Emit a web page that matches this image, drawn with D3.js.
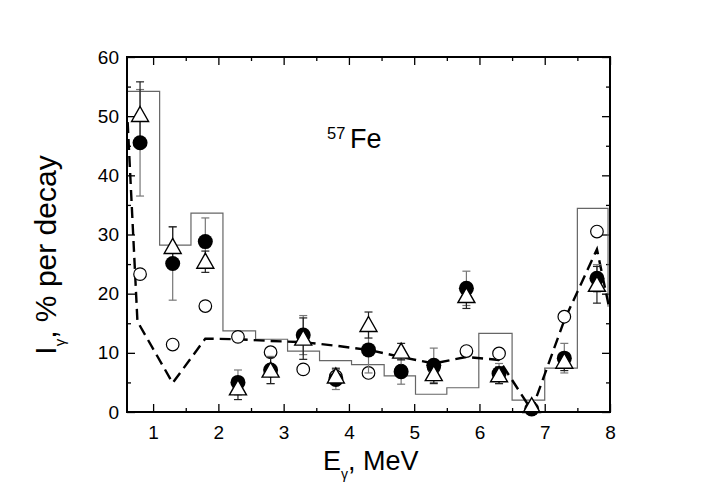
<!DOCTYPE html>
<html><head><meta charset="utf-8">
<script src="https://cdn.jsdelivr.net/npm/d3@7"></script>
<style>body{margin:0;background:#fff}svg{display:block}</style>
</head><body><svg id="c" width="708" height="494"></svg>
<script>
// ---- data ----
const energies   = [0.8,1.3,1.8,2.3,2.8,3.3,3.8,4.3,4.8,5.3,5.8,6.3,6.8,7.3,7.8];
const filledVals = [45.5,25.1,28.8,5.0,7.1,13.0,5.5,10.5,6.8,7.9,20.9,6.5,0.5,9.1,22.6];
const filledErr  = [9.0,6.2,4.0,2.1,2.3,3.3,1.7,3.9,2.1,2.9,2.9,1.7,0.5,2.5,2.3];
const triVals    = [50.2,27.9,25.4,4.0,7.0,12.4,6.0,14.7,10.2,6.4,19.6,6.2,1.0,8.5,21.5];
const triErr     = [5.6,3.4,1.8,1.9,2.2,3.5,1.4,2.2,1.4,1.6,2.1,1.4,0.6,1.5,3.1];
const openVals   = [23.3,11.4,17.9,12.7,10.1,7.2,6.0,6.6,7.0,7.5,10.3,9.9,0.5,16.1,30.5];
const histEdges  = [0.6,1.1,1.58,2.07,2.57,3.06,3.55,4.04,4.54,5.02,5.5,5.99,6.5,7.0,7.5,7.97];
const histVals   = [54.2,28.2,33.6,13.7,12.3,10.3,8.7,8.0,6.1,3.0,4.1,13.3,2.0,7.4,34.4];
const histEndVal = 17.8;
const curveE     = [0.61,0.76,1.3,1.8,2.3,2.8,3.3,3.8,4.3,4.8,5.3,5.8,6.3,6.8,7.3,7.8,7.98];
const curveVals  = [49,15.3,4.9,12.4,12.3,12.0,11.8,11.2,10.5,9.3,8.2,9.3,8.8,0.3,15.5,27.5,18];
const xTicks = [1,2,3,4,5,6,7,8];
const xMinor = [1.5,2.5,3.5,4.5,5.5,6.5,7.5];
const yTicks = [0,10,20,30,40,50,60];
const yMinor = [5,15,25,35,45,55];

const FONT = "'Liberation Sans', Arial, Helvetica, sans-serif";
const svg = d3.select("#c");
const x = d3.scaleLinear().domain([0.6, 8]).range([127, 610]);
const y = d3.scaleLinear().domain([0, 60]).range([412, 57]);
const [x0, x1] = x.range(), [y0, y1] = y.range();

// axes (inward ticks)
function styleAxis(g){ g.select(".domain").remove(); g.selectAll("line").attr("stroke","#000").attr("stroke-width",1.3);
  g.selectAll("text").attr("font-family",FONT).attr("font-size",19).attr("fill","#000"); }
svg.append("g").attr("transform",`translate(0,${y0})`)
  .call(d3.axisBottom(x).tickValues(xTicks).tickFormat(d3.format("d")).tickSize(-8).tickPadding(14)).call(styleAxis);
svg.append("g").attr("transform",`translate(0,${y0})`)
  .call(d3.axisBottom(x).tickValues(xMinor).tickFormat("").tickSize(-4)).call(styleAxis);
svg.append("g").attr("transform",`translate(0,${y1})`)
  .call(d3.axisTop(x).tickValues(xTicks).tickFormat("").tickSize(-8)).call(styleAxis);
svg.append("g").attr("transform",`translate(0,${y1})`)
  .call(d3.axisTop(x).tickValues(xMinor).tickFormat("").tickSize(-4)).call(styleAxis);
svg.append("g").attr("transform",`translate(${x0},0)`)
  .call(d3.axisLeft(y).tickValues(yTicks).tickFormat(d3.format("d")).tickSize(-8).tickPadding(8)).call(styleAxis);
svg.append("g").attr("transform",`translate(${x0},0)`)
  .call(d3.axisLeft(y).tickValues(yMinor).tickFormat("").tickSize(-4)).call(styleAxis);
svg.append("g").attr("transform",`translate(${x1},0)`)
  .call(d3.axisRight(y).tickValues(yTicks).tickFormat("").tickSize(-8)).call(styleAxis);
svg.append("g").attr("transform",`translate(${x1},0)`)
  .call(d3.axisRight(y).tickValues(yMinor).tickFormat("").tickSize(-4)).call(styleAxis);

// histogram
const histPts = histEdges.map((e,i)=>[e, i<histVals.length ? histVals[i] : histVals[histVals.length-1]]);
histPts.push([histEdges[histEdges.length-1], histEndVal]);
svg.append("path").attr("d", d3.line().x(d=>x(d[0])).y(d=>y(d[1])).curve(d3.curveStepAfter)(histPts))
  .attr("fill","none").attr("stroke","#666").attr("stroke-width",1.2);

// dashed curve
svg.append("path").attr("d", d3.line().x((d,i)=>x(curveE[i])).y(d=>y(d))(curveVals))
  .attr("fill","none").attr("stroke","#000").attr("stroke-width",2.4).attr("stroke-dasharray","11,6");

// open circles
svg.append("g").selectAll("circle").data(openVals).join("circle")
  .attr("cx",(d,i)=>x(energies[i])).attr("cy",d=>y(d)).attr("r",6.3)
  .attr("fill","#fff").attr("stroke","#000").attr("stroke-width",1.2);

// error bars
function errBars(vals, errs, color){
  const g = svg.append("g").attr("stroke",color).attr("stroke-width",1.2);
  vals.forEach((v,i)=>{
    const cx = x(energies[i]), lo = y(v-errs[i]), hi = y(v+errs[i]);
    g.append("line").attr("x1",cx).attr("x2",cx).attr("y1",lo).attr("y2",hi);
    g.append("line").attr("x1",cx-4).attr("x2",cx+4).attr("y1",lo).attr("y2",lo);
    g.append("line").attr("x1",cx-4).attr("x2",cx+4).attr("y1",hi).attr("y2",hi);
  });
}
errBars(filledVals, filledErr, "#777");
errBars(triVals, triErr, "#222");

// filled circles
svg.append("g").selectAll("circle").data(filledVals).join("circle")
  .attr("cx",(d,i)=>x(energies[i])).attr("cy",d=>y(d)).attr("r",7.5).attr("fill","#000");

// triangles
svg.append("g").selectAll("path").data(triVals).join("path")
  .attr("transform",(d,i)=>`translate(${x(energies[i])},${y(d)})`)
  .attr("d","M0,-8.5L8.5,6.5L-8.5,6.5Z")
  .attr("fill","#fff").attr("stroke","#000").attr("stroke-width",1.4).attr("stroke-linejoin","miter");

// frame
svg.append("rect").attr("x",x0).attr("y",y1).attr("width",x1-x0).attr("height",y0-y1)
  .attr("fill","none").attr("stroke","#000").attr("stroke-width",2);

// title
svg.append("text").attr("x",327).attr("y",139).attr("font-family",FONT).attr("font-size",16.5).text("57");
svg.append("text").attr("x",350).attr("y",148).attr("font-family",FONT).attr("font-size",27).text("Fe");

// x label
const xl = svg.append("text").attr("x",323).attr("y",470).attr("font-family",FONT).attr("font-size",27);
xl.append("tspan").text("E");
xl.append("tspan").attr("font-size",14).attr("dy",9).text("γ");
xl.append("tspan").attr("dy",-9).text(", MeV");

// y label
const yl = svg.append("text").attr("transform","translate(56,255) rotate(-90)").attr("text-anchor","middle")
  .attr("font-family",FONT).attr("font-size",30);
yl.append("tspan").text("I");
yl.append("tspan").attr("font-size",15).attr("dy",9).text("γ");
yl.append("tspan").attr("dy",-9).text(", % per decay");
</script></body></html>
